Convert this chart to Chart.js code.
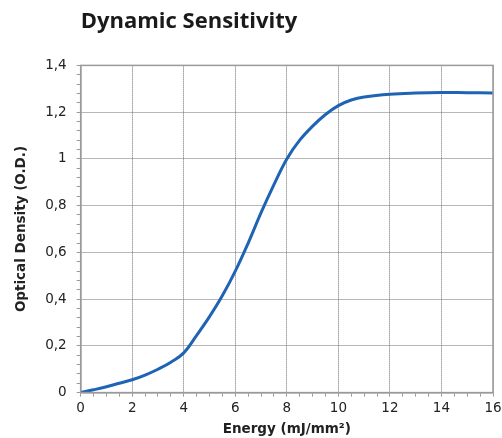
<!DOCTYPE html>
<html>
<head>
<meta charset="utf-8">
<script src="https://cdn.jsdelivr.net/npm/chart.js@4/dist/chart.umd.min.js"></script>
<style>
  html, body { margin: 0; padding: 0; background: #fff; }
  #wrap { width: 502px; height: 438px; }
</style>
</head>
<body>
<div id="wrap"><canvas id="sensChart"></canvas></div>
<script>
// values
const energy  = [0, 0.5, 1, 1.5, 2, 2.5, 3, 3.5, 4, 4.5, 5, 5.5, 6, 6.5, 7, 7.5, 8, 8.5, 9, 9.5, 10, 10.5, 11, 12, 13, 14, 15, 16];
const density = [0, 0.012, 0.025, 0.04, 0.055, 0.075, 0.1, 0.13, 0.17, 0.245, 0.325, 0.415, 0.52, 0.64, 0.77, 0.89, 1.0, 1.08, 1.14, 1.19, 1.228, 1.252, 1.265, 1.277, 1.282, 1.284, 1.283, 1.282];

const xTickLabels = ["0", "2", "4", "6", "8", "10", "12", "14", "16"];
const yTickLabels = ["0", "0,2", "0,4", "0,6", "0,8", "1", "1,2", "1,4"];

const gridGrey = '#6e6e6e';
const axisGrey = '#9a9a9a';

function majorIndex(v, step) {
  const r = v / step;
  return Math.abs(r - Math.round(r)) < 1e-6 ? Math.round(r) : -1;
}

// solid frame round the plot area (top / right edges)
const frame = {
  id: 'frame',
  afterDraw(chart) {
    const a = chart.chartArea, c = chart.ctx;
    c.save();
    c.strokeStyle = axisGrey;
    c.lineWidth = 1.5;
    c.strokeRect(a.left, a.top, a.right - a.left, a.bottom - a.top);
    c.restore();
  }
};

new Chart(document.getElementById('sensChart'), {
  type: 'scatter',
  data: {
    datasets: [{
      data: energy.map((e, i) => ({x: e, y: density[i]})),
      showLine: true,
      borderColor: '#1f64b4',
      borderWidth: 3,
      pointRadius: 0,
      tension: 0.4
    }]
  },
  options: {
    responsive: true,
    maintainAspectRatio: false,
    animation: false,
    layout: { padding: { left: 0, right: 0, top: 0, bottom: 0 } },
    plugins: {
      legend: { display: false },
      tooltip: { enabled: false },
      title: {
        display: true,
        text: 'Dynamic Sensitivity',
        align: 'start',
        fullSize: false,
        color: '#1a1a1a',
        font: { family: 'Open Sans', size: 22, weight: 'bold' },
        padding: { top: 9, bottom: 30 }
      }
    },
    scales: {
      x: {
        type: 'linear',
        min: 0, max: 16,
        afterFit: s => { s.paddingRight = 9; },
        ticks: {
          stepSize: 0.5,
          autoSkip: false,
          maxRotation: 0,
          color: '#222',
          font: { family: 'DejaVu Sans', size: 13.5 },
          padding: 4,
          callback: v => { const k = majorIndex(v, 2); return k >= 0 ? xTickLabels[k] : ''; }
        },
        grid: {
          color: ctx => majorIndex(ctx.tick.value, 2) >= 0 ? gridGrey : 'rgba(0,0,0,0)',
          tickColor: axisGrey,
          tickLength: 4,
          lineWidth: 1
        },
        border: { color: axisGrey, width: 1.5, dash: [1, 1] },
        title: {
          display: true,
          text: 'Energy (mJ/mm²)',
          color: '#222',
          font: { family: 'DejaVu Sans', size: 13.5, weight: 'bold' },
          padding: { top: 1, bottom: 0 }
        }
      },
      y: {
        type: 'linear',
        min: 0, max: 1.4,
        ticks: {
          stepSize: 0.04,
          autoSkip: false,
          color: '#222',
          font: { family: 'DejaVu Sans', size: 13.5 },
          padding: 10,
          callback: v => { const k = majorIndex(v, 0.2); return k >= 0 ? yTickLabels[k] : ''; }
        },
        grid: {
          color: ctx => majorIndex(ctx.tick.value, 0.2) >= 0 ? gridGrey : 'rgba(0,0,0,0)',
          tickColor: axisGrey,
          tickLength: 4,
          lineWidth: 1
        },
        border: { color: axisGrey, width: 1.5, dash: [1, 1] },
        title: {
          display: true,
          text: 'Optical Density (O.D.)',
          color: '#222',
          font: { family: 'DejaVu Sans', size: 13.5, weight: 'bold' },
          padding: { top: 13, bottom: 6 }
        }
      }
    }
  },
  plugins: [frame]
});
</script>
</body>
</html>
